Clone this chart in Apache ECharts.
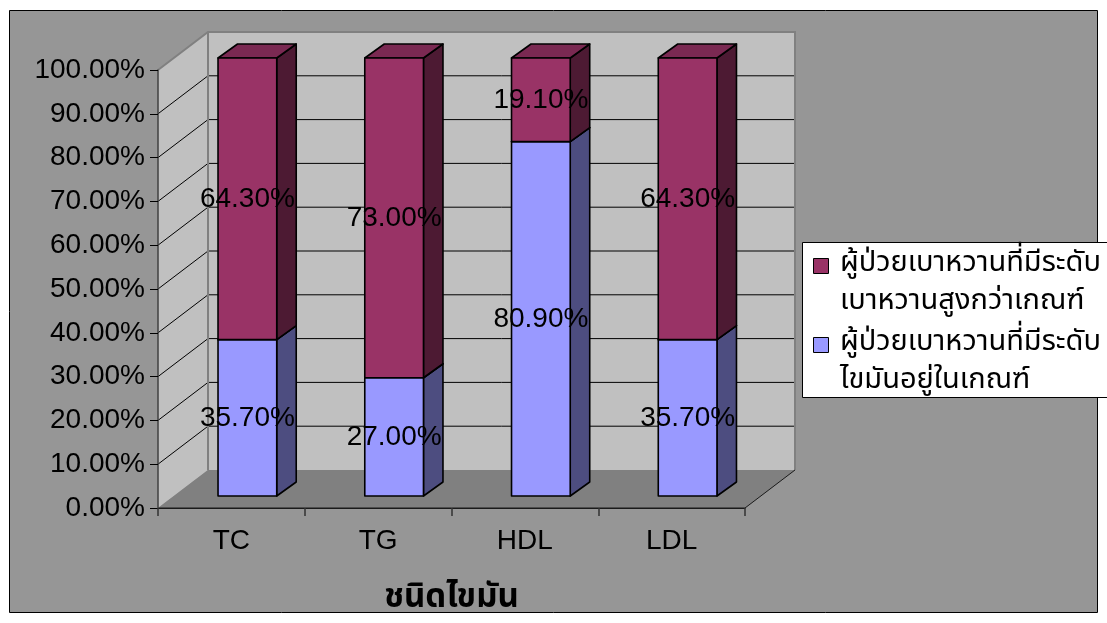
<!DOCTYPE html>
<html>
<head>
<meta charset="utf-8">
<style>
  html, body { margin: 0; padding: 0; background: #ffffff; }
  #chart { width: 1107px; height: 623px; }
</style>
<script src="https://cdn.jsdelivr.net/npm/echarts@6/dist/echarts.min.js"></script>
</head>
<body>
<div id="chart"></div>
<script>
// Lipid types on the category axis
const categories = ['TC', 'TG', 'HDL', 'LDL'];
// Share of diabetic patients whose lipid level is within the normal range (%)
const withinNormal = [35.7, 27.0, 80.9, 35.7];
// Share of diabetic patients whose level is above the threshold (%)
const aboveThreshold = [64.3, 73.0, 19.1, 64.3];
// Value axis ticks (%)
const yTicks = [0, 10, 20, 30, 40, 50, 60, 70, 80, 90, 100];

const seriesNames = [
  'ผู้ป่วยเบาหวานที่มีระดับเบาหวานสูงกว่าเกณฑ์',
  'ผู้ป่วยเบาหวานที่มีระดับไขมันอยู่ในเกณฑ์'
];
const legendLines = [
  ['ผู้ป่วยเบาหวานที่มีระดับ', 'เบาหวานสูงกว่าเกณฑ์'],
  ['ผู้ป่วยเบาหวานที่มีระดับ', 'ไขมันอยู่ในเกณฑ์']
];

// pseudo-3D geometry
const WALL_DX = 50, WALL_DY = -38;      // depth of the plot box
const FACE_DX = 16, FACE_DY = -12;      // front face of each column
const BAR_DX = 19.5, BAR_DY = -14;      // column depth
const BAR_RATIO = 0.40;                 // column width / category width

const NUM_FONT = '"Liberation Sans", Arial, sans-serif';
const THAI_FONT = 'Tahoma, "Noto Sans Thai", "Noto Sans Thai UI", Loma, Garuda, "Noto Sans", sans-serif';

const palette = {
  above: { front: '#993366', side: '#4d1a33', top: '#7a2952' },
  normal: { front: '#9999ff', side: '#4d4d80', top: '#7a7acc' }
};

function fmtPct(v) { return v.toFixed(2) + '%'; }

// Walls, floor and gridlines of the 3D box
function renderWalls(params, api) {
  const cs = params.coordSys;
  const x0 = cs.x, x1 = cs.x + cs.width;
  const yTop = api.coord([0, 100])[1];
  const yBot = api.coord([0, 0])[1];
  const children = [];
  // side wall
  children.push({
    type: 'polygon',
    shape: { points: [[x0, yBot], [x0, yTop], [x0 + WALL_DX, yTop + WALL_DY], [x0 + WALL_DX, yBot + WALL_DY]] },
    style: { fill: '#c0c0c0', stroke: null }
  });
  // back wall
  children.push({
    type: 'rect',
    shape: { x: x0 + WALL_DX, y: yTop + WALL_DY, width: x1 - x0, height: yBot - yTop },
    style: { fill: '#c0c0c0', stroke: null }
  });
  // floor
  children.push({
    type: 'polygon',
    shape: { points: [[x0, yBot], [x1, yBot], [x1 + WALL_DX, yBot + WALL_DY], [x0 + WALL_DX, yBot + WALL_DY]] },
    style: { fill: '#808080', stroke: null }
  });
  // gridlines on side and back walls
  yTicks.forEach(function (t) {
    if (t === 0 || t === 100) return;
    const y = api.coord([0, t])[1];
    children.push({
      type: 'polyline',
      shape: { points: [[x0, y], [x0 + WALL_DX, y + WALL_DY], [x1 + WALL_DX, y + WALL_DY]] },
      style: { stroke: '#000000', lineWidth: 1, fill: null }
    });
  });
  // wall edges
  children.push({
    type: 'polyline',
    shape: { points: [[x0, yTop], [x0 + WALL_DX, yTop + WALL_DY], [x1 + WALL_DX, yTop + WALL_DY], [x1 + WALL_DX, yBot + WALL_DY]] },
    style: { stroke: '#808080', lineWidth: 2, fill: null }
  });
  children.push({
    type: 'line',
    shape: { x1: x0 + WALL_DX, y1: yTop + WALL_DY, x2: x0 + WALL_DX, y2: yBot + WALL_DY },
    style: { stroke: '#808080', lineWidth: 2 }
  });
  // floor edges
  children.push({
    type: 'polyline',
    shape: { points: [[x0, yBot], [x1, yBot], [x1 + WALL_DX, yBot + WALL_DY]] },
    style: { stroke: '#1a1a1a', lineWidth: 1, fill: null }
  });
  return { type: 'group', children: children };
}

// One stacked segment of a 3D column
function makeColumnRenderer(colors) {
  return function (params, api) {
    const i = api.value(0);
    const base = api.value(1);
    const val = api.value(2);
    const pb = api.coord([i, base]);
    const pt = api.coord([i, base + val]);
    const bw = api.size([1, 0])[0] * BAR_RATIO;
    const xl = pb[0] - bw / 2 + FACE_DX;
    const xr = xl + bw;
    const yb = pb[1] + FACE_DY;
    const yt = pt[1] + FACE_DY;
    const stroke = { stroke: '#000000', lineWidth: 1.6, lineJoin: 'round' };
    return {
      type: 'group',
      children: [
        {
          type: 'polygon',
          shape: { points: [[xr, yt], [xr + BAR_DX, yt + BAR_DY], [xr + BAR_DX, yb + BAR_DY], [xr, yb]] },
          style: Object.assign({ fill: colors.side }, stroke)
        },
        {
          type: 'polygon',
          shape: { points: [[xl, yt], [xl + BAR_DX, yt + BAR_DY], [xr + BAR_DX, yt + BAR_DY], [xr, yt]] },
          style: Object.assign({ fill: colors.top }, stroke)
        },
        {
          type: 'rect',
          shape: { x: xl, y: yt, width: bw, height: yb - yt },
          style: Object.assign({ fill: colors.front }, stroke)
        },
        {
          type: 'text',
          z2: 50,
          style: {
            text: fmtPct(val),
            x: (xl + xr) / 2,
            y: (yt + yb) / 2,
            align: 'center',
            verticalAlign: 'middle',
            fill: '#000000',
            font: '28px ' + NUM_FONT
          }
        }
      ]
    };
  };
}

const normalData = categories.map(function (c, i) { return [i, 0, withinNormal[i]]; });
const aboveData = categories.map(function (c, i) { return [i, withinNormal[i], aboveThreshold[i]]; });

// Legend drawn as graphic elements (icon aligned with the first text line)
const LEG_X = 802.5, LEG_Y = 242.5;
const legendItems = [
  { color: palette.above.front, lines: legendLines[0], y: 266 },
  { color: palette.normal.front, lines: legendLines[1], y: 345 }
];
const legendGraphics = [
  {
    type: 'rect', z: 100,
    shape: { x: LEG_X, y: LEG_Y, width: 500, height: 155 },
    style: { fill: '#ffffff', stroke: '#000000', lineWidth: 1 }
  }
];
legendItems.forEach(function (it) {
  legendGraphics.push({
    type: 'rect', z: 101,
    shape: { x: 813.5, y: it.y - 7.5, width: 15, height: 15 },
    style: { fill: it.color, stroke: '#000000', lineWidth: 1 }
  });
  legendGraphics.push({
    type: 'text', z: 101,
    style: {
      text: it.lines.join('\n'),
      x: 840, y: it.y - 20,
      lineHeight: 38,
      fill: '#000000',
      font: '29px ' + THAI_FONT
    }
  });
});

const chart = echarts.init(document.getElementById('chart'), null, { renderer: 'canvas' });
chart.setOption({
  backgroundColor: '#ffffff',
  animation: false,
  graphic: [
    {
      type: 'rect', z: -10,
      shape: { x: 9.5, y: 10.5, width: 1088, height: 602 },
      style: { fill: '#969696', stroke: '#000000', lineWidth: 1 }
    }
  ].concat(legendGraphics),
  grid: { left: 158, right: 362, top: 70, bottom: 115, containLabel: false },
  xAxis: {
    type: 'category',
    data: categories,
    z: 10,
    name: 'ชนิดไขมัน',
    nameLocation: 'middle',
    nameGap: 76,
    nameTextStyle: { fontSize: 33, fontWeight: 'bold', color: '#000000', fontFamily: THAI_FONT },
    axisLine: { show: true, lineStyle: { color: '#1a1a1a', width: 1 } },
    axisTick: { show: true, length: 8, lineStyle: { color: '#333333', width: 1.5 } },
    axisLabel: { margin: 19, fontSize: 28, color: '#000000', fontFamily: NUM_FONT },
    splitLine: { show: false }
  },
  yAxis: {
    type: 'value',
    min: 0,
    max: 100,
    interval: 10,
    z: 10,
    axisLine: { show: true, lineStyle: { color: '#404040', width: 1.5 } },
    axisTick: { show: true, length: 8, lineStyle: { color: '#000000', width: 1 } },
    axisLabel: { margin: 13, fontSize: 28, color: '#000000', fontFamily: NUM_FONT, formatter: fmtPct },
    splitLine: { show: false }
  },
  series: [
    {
      type: 'custom',
      name: 'walls',
      silent: true,
      z: 1,
      renderItem: renderWalls,
      data: [[0, 0]]
    },
    {
      type: 'custom',
      name: seriesNames[1],
      z: 2,
      silent: true,
      itemStyle: { color: palette.normal.front },
      encode: { x: 0, y: 2 },
      renderItem: makeColumnRenderer(palette.normal),
      data: normalData
    },
    {
      type: 'custom',
      name: seriesNames[0],
      z: 3,
      silent: true,
      itemStyle: { color: palette.above.front },
      encode: { x: 0, y: 2 },
      renderItem: makeColumnRenderer(palette.above),
      data: aboveData
    }
  ]
});
</script>
</body>
</html>
